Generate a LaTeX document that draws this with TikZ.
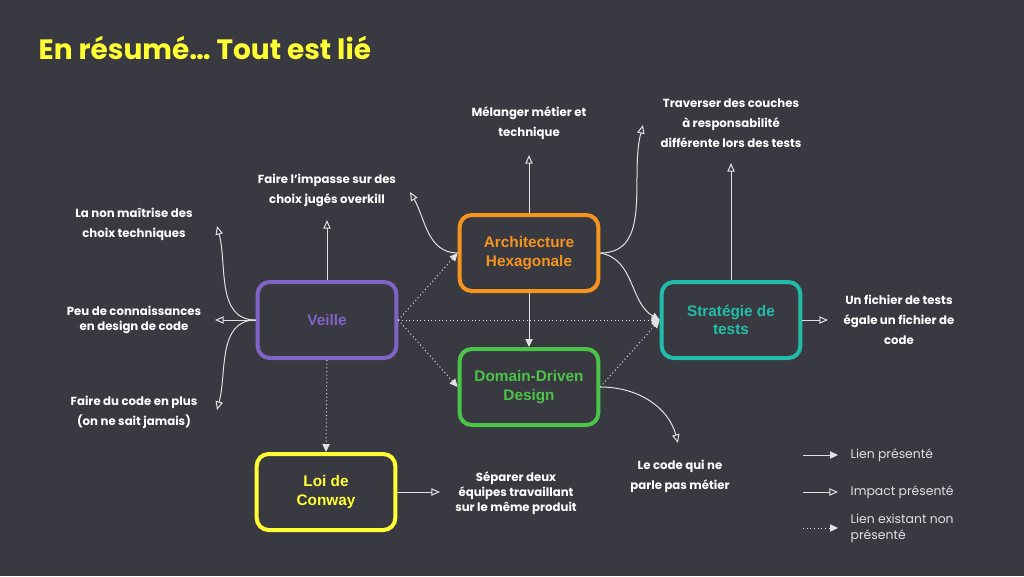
\documentclass[tikz,border=0pt]{standalone}
\usepackage{fontspec}
\setmainfont{Poppins}
\newfontfamily\boxfont{Liberation Sans}
\usetikzlibrary{arrows.meta}

\definecolor{fond}{RGB}{57,57,65}
\definecolor{veilleviolet}{RGB}{128,100,200}
\definecolor{archiorange}{RGB}{247,148,29}
\definecolor{dddvert}{RGB}{76,196,72}
\definecolor{stratturq}{RGB}{32,190,168}
\definecolor{conwayjaune}{RGB}{255,255,51}
\definecolor{trait}{RGB}{225,225,225}

\tikzset{
  bloc/.style={draw=#1, text=#1, line width=3pt, rounded corners=9pt,
    minimum width=104pt, minimum height=57pt, align=center,
    font=\boxfont\bfseries\fontsize{11.5}{14}\selectfont},
  etiq/.style={text=white, align=center, font=\bfseries\fontsize{8.8}{15}\selectfont},
  legende/.style={text=trait, align=left, anchor=west, font=\fontsize{9.3}{12}\selectfont},
  lien/.style={draw=trait, line width=0.75pt, -{Triangle[length=6pt,width=5.5pt]}},
  impact/.style={draw=trait, line width=0.75pt, -{Triangle[open,length=6.5pt,width=5.5pt]}},
  existant/.style={lien, dotted},
}

\begin{document}
\begin{tikzpicture}[x=0.75pt,y=-0.75pt]
    \fill[fond] (0,0) rectangle (1024,576);

    \node[anchor=west, text=conwayjaune, font=\bfseries\fontsize{21}{24}\selectfont] (titre) at (34,48) {En résumé… Tout est lié};

    % blocs
    \node[bloc=veilleviolet] (veille) at (327,320) {Veille};
    \node[bloc=archiorange] (archi) at (529,253) {Architecture\\Hexagonale};
    \node[bloc=dddvert] (ddd) at (529,387) {Domain-Driven\\Design};
    \node[bloc=stratturq] (strat) at (731,320) {Stratégie de\\tests};
    \node[bloc=conwayjaune] (conway) at (326,492) {Loi de\\Conway};

    % etiquettes
    \node[etiq] (impasse) at (327,190) {Faire l’impasse sur des\\choix jugés overkill};
    \node[etiq] (lanon) at (134,224) {La non maîtrise des\\choix techniques};
    \node[etiq, font=\bfseries\fontsize{8.8}{11}\selectfont] (peu) at (134,320) {Peu de connaissances\\en design de code};
    \node[etiq] (enplus) at (134,412) {Faire du code en plus\\(on ne sait jamais)};
    \node[etiq] (melanger) at (529,123) {Mélanger métier et\\technique};
    \node[etiq] (traverser) at (731,123) {Traverser des couches\\à responsabilité\\différente lors des tests};
    \node[etiq] (fichier) at (899,320) {Un fichier de tests\\égale un fichier de\\code};
    \node[etiq] (metier) at (680,476) {Le code qui ne\\parle pas métier};
    \node[etiq, font=\bfseries\fontsize{8.8}{11}\selectfont] (separer) at (516,493) {Séparer deux\\équipes travaillant\\sur le même produit};

    % bouts des fleches d'impact
    \coordinate (tImpasseV) at (327,220);
    \coordinate (tLanon) at (217,226);
    \coordinate (tPeu) at (215,320);
    \coordinate (tPlus) at (217,410);
    \coordinate (tImpasseA) at (410,192);
    \coordinate (tMelanger) at (529,155);
    \coordinate (tTraverser) at (643,125);
    \coordinate (tStrat) at (731,163);
    \coordinate (tFichier) at (828,320);
    \coordinate (tMetier) at (678,443);
    \coordinate (tSeparer) at (440,492);

    % veille
    \draw[impact] (veille.north) -- (tImpasseV);
    \draw[impact] (veille.west) to[out=180,in=-75] (tLanon);
    \draw[impact] (veille.west) -- (tPeu);
    \draw[impact] (veille.west) to[out=180,in=75] (tPlus);
    \draw[existant] (veille.east) -- (archi.west);
    \draw[existant] (veille.east) -- (ddd.west);
    \draw[existant] (veille.east) -- (strat.west);
    \draw[existant] (veille.south) -- (conway.north);

    % architecture
    \draw[impact] (archi.west) to[out=180,in=-60] (tImpasseA);
    \draw[impact] (archi.north) -- (tMelanger);
    \draw[lien] (archi.south) -- (ddd.north);
    \draw[impact] (archi.east) to[out=0,in=-105] (tTraverser);
    \draw[lien] (archi.east) to[out=-10,in=150] (strat.west);

    % ddd, strategie, conway
    \draw[existant] (ddd.east) -- (strat.west);
    \draw[impact] (ddd.east) to[out=0,in=105] (tMetier);
    \draw[impact] (strat.north) -- (tStrat);
    \draw[impact] (strat.east) -- (tFichier);
    \draw[impact] (conway.east) -- (tSeparer);

    % legende
    \coordinate (l1a) at (803,455); \coordinate (l1b) at (838,455);
    \coordinate (l2a) at (803,492); \coordinate (l2b) at (838,492);
    \coordinate (l3a) at (803,528); \coordinate (l3b) at (838,528);
    \draw[lien] (l1a) -- (l1b);
    \draw[impact] (l2a) -- (l2b);
    \draw[existant] (l3a) -- (l3b);
    \node[legende] (leg1) at (846,455) {Lien présenté};
    \node[legende] (leg2) at (846,492) {Impact présenté};
    \node[legende] (leg3) at (846,528) {Lien existant non\\présenté};
\end{tikzpicture}
\end{document}
